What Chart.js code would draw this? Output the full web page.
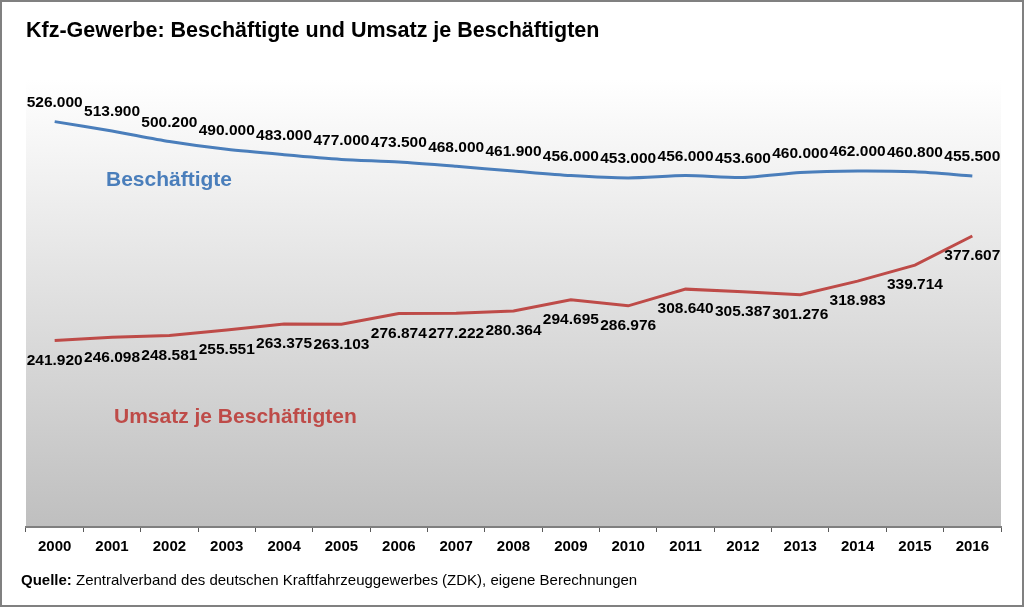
<!DOCTYPE html>
<html>
<head>
<meta charset="utf-8">
<script src="https://cdn.jsdelivr.net/npm/chart.js@4"></script>
<style>
  body { margin: 0; background: #fff; }
  #wrap { width: 1024px; height: 607px; position: relative; }
</style>
</head>
<body>
<div id="wrap"><canvas id="kfzChart" width="1024" height="607"></canvas></div>
<script>
// Daten
const jahre = ['2000','2001','2002','2003','2004','2005','2006','2007','2008','2009','2010','2011','2012','2013','2014','2015','2016'];
const beschaeftigte = [526000, 513900, 500200, 490000, 483000, 477000, 473500, 468000, 461900, 456000, 453000, 456000, 453600, 460000, 462000, 460800, 455500];
const umsatzJeBesch = [241920, 246098, 248581, 255551, 263375, 263103, 276874, 277222, 280364, 294695, 286976, 308640, 305387, 301276, 318983, 339714, 377607];

const titel = 'Kfz-Gewerbe: Beschäftigte und Umsatz je Beschäftigten';
const quelleFett = 'Quelle:';
const quelleText = ' Zentralverband des deutschen Kraftfahrzeuggewerbes (ZDK), eigene Berechnungen';

const BLAU = '#4a7ebb';
const ROT = '#be4b48';
const FONT = '"Liberation Sans", Arial, sans-serif';

function fmt(v) {
  return String(v).replace(/\B(?=(\d{3})+(?!\d))/g, '.');
}

// Hintergrund der Zeichenfläche (Verlauf weiss -> grau)
const bgPlugin = {
  id: 'bgPlugin',
  beforeDraw(chart) {
    const ctx = chart.ctx, a = chart.chartArea;
    ctx.save();
    const g = ctx.createLinearGradient(0, a.top, 0, a.bottom);
    g.addColorStop(0, '#ffffff');
    g.addColorStop(1, '#bfbfbf');
    ctx.fillStyle = g;
    ctx.fillRect(a.left, a.top, a.right - a.left, a.bottom - a.top);
    ctx.restore();
  }
};

// Datenbeschriftungen + Texte
const labelPlugin = {
  id: 'labelPlugin',
  afterDatasetsDraw(chart) {
    const ctx = chart.ctx;
    ctx.save();
    ctx.font = 'bold 15.5px ' + FONT;
    ctx.fillStyle = '#000';
    ctx.textAlign = 'center';
    ctx.textBaseline = 'middle';
    chart.data.datasets.forEach((ds, i) => {
      const meta = chart.getDatasetMeta(i);
      meta.data.forEach((pt, j) => {
        ctx.fillText(fmt(ds.data[j]), pt.x, pt.y + ds.labelOffset);
      });
    });
    ctx.restore();
  },
  afterDraw(chart) {
    const ctx = chart.ctx;
    ctx.save();
    ctx.textBaseline = 'middle';
    ctx.textAlign = 'left';
    // Titel
    ctx.fillStyle = '#000';
    ctx.font = 'bold 21.5px ' + FONT;
    ctx.fillText(titel, 26, 31);
    // Reihennamen im Diagramm
    ctx.font = 'bold 21px ' + FONT;
    ctx.fillStyle = BLAU;
    ctx.fillText(chart.data.datasets[0].label, 106, 180);
    ctx.fillStyle = ROT;
    ctx.fillText(chart.data.datasets[1].label, 114, 417);
    // Quelle
    ctx.fillStyle = '#000';
    ctx.font = 'bold 15px ' + FONT;
    ctx.fillText(quelleFett, 21, 581);
    const w = ctx.measureText(quelleFett).width;
    ctx.font = '15px ' + FONT;
    ctx.fillText(quelleText, 21 + w, 581);
    // Rahmen
    ctx.strokeStyle = '#808080';
    ctx.lineWidth = 2;
    ctx.strokeRect(1, 1, chart.width - 2, chart.height - 2);
    ctx.restore();
  }
};

const ctx = document.getElementById('kfzChart').getContext('2d');
const kfzChart = new Chart(ctx, {
  type: 'line',
  data: {
    labels: jahre,
    datasets: [
      {
        label: 'Beschäftigte',
        data: beschaeftigte,
        borderColor: BLAU,
        borderWidth: 3,
        pointRadius: 0,
        tension: 0.25,
        labelOffset: -19
      },
      {
        label: 'Umsatz je Beschäftigten',
        data: umsatzJeBesch,
        borderColor: ROT,
        borderWidth: 3,
        pointRadius: 0,
        tension: 0,
        labelOffset: 20
      }
    ]
  },
  options: {
    responsive: false,
    animation: false,
    layout: { padding: { left: 26, right: 23, top: 80, bottom: 45 } },
    plugins: {
      legend: { display: false },
      title: { display: false },
      tooltip: { enabled: false }
    },
    scales: {
      x: {
        offset: true,
        grid: {
          offset: true,
          drawOnChartArea: false,
          drawTicks: true,
          tickLength: 5,
          color: '#595959',
          lineWidth: 1
        },
        border: { display: true, color: '#7f7f7f', width: 2 },
        ticks: {
          color: '#000',
          padding: 6,
          font: { family: FONT, size: 15, weight: 'bold' },
          maxRotation: 0,
          autoSkip: false
        }
      },
      y: {
        display: false,
        min: 0,
        max: 580000
      }
    }
  },
  plugins: [bgPlugin, labelPlugin]
});
</script>
</body>
</html>
